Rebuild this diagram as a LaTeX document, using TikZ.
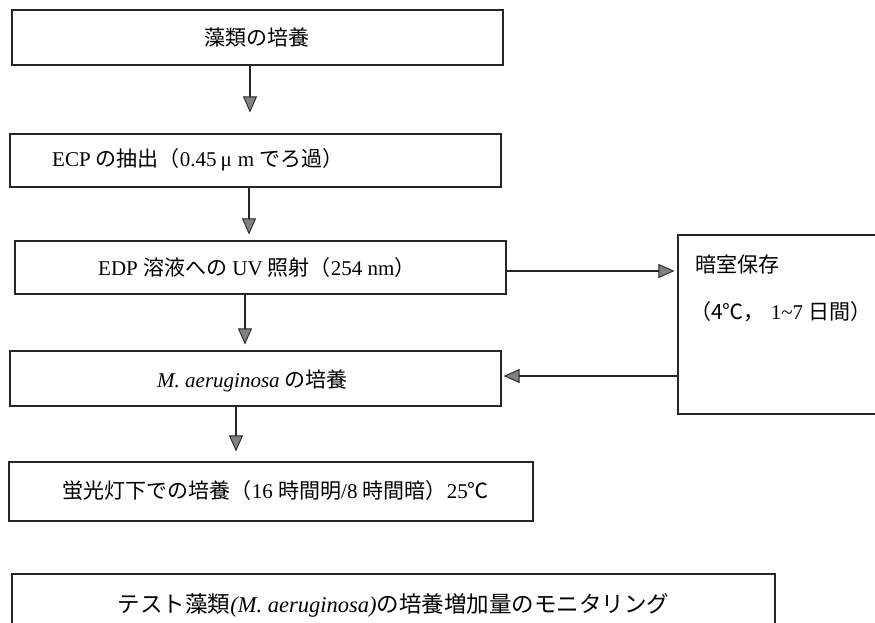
\documentclass[tikz,border=0pt]{standalone}
\usepackage{fontspec}
\setmainfont{Liberation Serif}
\newfontfamily\cjk[Scale=1.0]{Noto Sans CJK JP}
\usetikzlibrary{arrows.meta}
\newcommand\J[1]{{\cjk #1}}
\begin{document}
\begin{tikzpicture}[x=1pt,y=-1pt,
  box/.style={draw=black!85,line width=1.2pt,rectangle,inner sep=0pt},
  txt/.style={inner sep=0pt,font=\fontsize{21}{25}\selectfont},
  bigtxt/.style={inner sep=0pt,font=\fontsize{22.5}{27}\selectfont},
  arr/.style={draw=black!85,line width=1.3pt,
    -{Triangle[width=14pt,length=16pt,fill=black!50,line width=0.9pt]}}]
\useasboundingbox (0,0) rectangle (875,622);
\clip (0,0) rectangle (875,622);
% boxes
\node[box,minimum width=491pt,minimum height=55pt] (b1) at (257.5,37.5) {};
\node[box,minimum width=491pt,minimum height=53pt] (b2) at (255.5,160.5) {};
\node[box,minimum width=491pt,minimum height=53pt] (b3) at (260.5,267.5) {};
\node[box,minimum width=491pt,minimum height=55pt] (b4) at (255.5,378.5) {};
\node[box,minimum width=524pt,minimum height=59pt] (b5) at (271,491.5) {};
\node[box,minimum width=763pt,minimum height=66pt] (b6) at (393.5,607) {};
\node[box,minimum width=207pt,minimum height=179pt] (rb) at (781.5,324.5) {};
% texts
\node[txt] (t1) at (257,38) {\J{藻類の培養}};
\node[txt,anchor=west] (t2) at (52,160) {ECP \J{の抽出（}0.45\hspace{4pt}μ\hspace{6pt}m \J{でろ過）}};
\node[txt,anchor=west] (t3) at (98,268) {EDP \J{溶液への} UV \J{照射（}254 nm\J{）}};
\node[txt,anchor=west] (t4) at (157,381) {\textit{M. aeruginosa} \J{の培養}};
\node[txt,anchor=east] (t5) at (489,491) {\J{蛍光灯下での培養（}16 \J{時間明}/8 \J{時間暗）}25\J{℃}};
\node[bigtxt] (t6) at (393.5,605) {\J{テスト藻類}\textit{(M. aeruginosa)}\J{の培養増加量のモニタリング}};
\node[txt,anchor=west] (t7) at (695,265) {\J{暗室保存}};
\node[txt,anchor=west] (t8) at (690,312) {\J{（4℃，}\hspace{6pt}1\textasciitilde 7 \J{日間）}};
% connectors
\draw[arr,shorten >=21pt] ([xshift=-7.5pt]b1.south) -- ([xshift=-5.5pt]b2.north);
\draw[arr,shorten >=6pt] ([xshift=-6.5pt]b2.south) -- ([xshift=-11.5pt]b3.north);
\draw[arr,shorten >=6pt] ([xshift=-15.5pt]b3.south) -- ([xshift=-10.5pt]b4.north);
\draw[arr,shorten >=10pt] ([xshift=-19.5pt]b4.south) -- ([xshift=-35pt]b5.north);
\draw[arr,shorten >=3pt] ([yshift=-3.5pt]b3.east) -- ([yshift=-3.5pt]b3.east -| rb.west);
\draw[arr,shorten >=2pt] ([yshift=2.5pt]b4.east -| rb.west) -- ([yshift=2.5pt]b4.east);
\end{tikzpicture}
\end{document}
